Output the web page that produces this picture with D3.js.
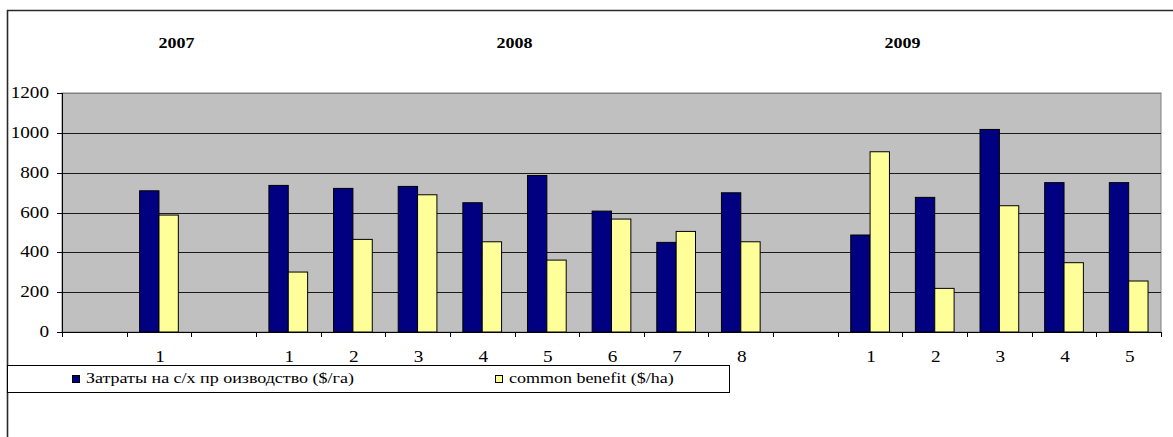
<!DOCTYPE html>
<html>
<head>
<meta charset="utf-8">
<script src="https://cdn.jsdelivr.net/npm/d3@7/dist/d3.min.js"></script>
<style>
  html, body { margin: 0; padding: 0; background: #fff; }
  svg { display: block; }
</style>
</head>
<body>
<svg id="chart" width="1173" height="437"></svg>
<script>
// Slot labels along the category axis (empty slots separate the years)
const slotLabels = ["", "1", "", "1", "2", "3", "4", "5", "6", "7", "8", "", "1", "2", "3", "4", "5"];
// Production costs, $/ha
const costs   = [null, 709, null, 736, 721, 731, 649, 786, 607, 450, 699, null, 487, 676, 1017, 750, 750];
// Common benefit, $/ha
const benefit = [null, 587, null, 301, 465, 689, 453, 361, 567, 505, 453, null, 905, 219, 634, 348, 256];
// Year headings and the slot position each one sits over
const years   = ["2007", "2008", "2009"];
const yearPos = [1.77, 7.0, 13.0];
const yTicks  = [0, 200, 400, 600, 800, 1000, 1200];
const seriesNames = ["Затраты на с/х пр оизводство ($/га)", "common benefit ($/ha)"];
const seriesColors = ["#000080", "#FFFF99"];

const FONT = "Liberation Serif, Tinos, DejaVu Serif, Noto Serif, serif";
const svg = d3.select("#chart");
const plot = { left: 62, right: 1161, top: 93, bottom: 332 };
const STRETCH = 1.2;   // horizontal text stretch

const slots = slotLabels.map((d, i) => i);
const x = d3.scaleBand().domain(slots).range([plot.left, plot.right]).paddingInner(0).paddingOuter(0);
const xSub = d3.scaleBand().domain([0, 1]).range([0, x.bandwidth()]).paddingInner(0).paddingOuter(0.67);
const xUnit = d3.scaleLinear().domain([0, slots.length]).range([plot.left, plot.right]);
const y = d3.scaleLinear().domain([0, 1200]).range([plot.bottom, plot.top]);

function stretchedText(g, tx, ty, str, opts = {}) {
  return g.append("text")
    .attr("transform", `translate(${tx},${ty}) scale(${STRETCH},1)`)
    .attr("text-anchor", opts.anchor || "start")
    .style("font-family", FONT)
    .style("font-size", (opts.size || 16) + "px")
    .style("font-weight", opts.weight || "normal")
    .attr("fill", "#000")
    .text(str);
}

// Outer chart frame (extends past the window on the right and bottom)
svg.append("path")
  .attr("d", "M7.5,440 L7.5,10.5 L1180,10.5")
  .attr("fill", "none").attr("stroke", "#2a2a2a").attr("stroke-width", 1.6);

// Plot area
svg.append("rect")
  .attr("x", plot.left).attr("y", plot.top)
  .attr("width", plot.right - plot.left).attr("height", plot.bottom - plot.top)
  .attr("fill", "#C0C0C0").attr("stroke", "#808080").attr("stroke-width", 1);

// Gridlines
svg.append("g").selectAll("line").data(yTicks.filter(d => d > 0)).join("line")
  .attr("x1", plot.left).attr("x2", plot.right)
  .attr("y1", d => Math.round(y(d)) + 0.5).attr("y2", d => Math.round(y(d)) + 0.5)
  .attr("stroke", d => d === 1200 ? "#808080" : "#1a1a1a").attr("stroke-width", 1);

// Bars
const bars = svg.append("g");
[costs, benefit].forEach((series, s) => {
  bars.selectAll(null).data(series.map((v, i) => ({ v, i })).filter(d => d.v != null)).join("rect")
    .attr("x", d => x(d.i) + xSub(s))
    .attr("y", d => y(d.v))
    .attr("width", xSub.bandwidth())
    .attr("height", d => y(0) - y(d.v))
    .attr("fill", seriesColors[s])
    .attr("stroke", "#000").attr("stroke-width", 1);
});

// Y axis
const yAxis = svg.append("g");
yAxis.append("line").attr("x1", plot.left + 0.5).attr("x2", plot.left + 0.5)
  .attr("y1", plot.top).attr("y2", plot.bottom).attr("stroke", "#000");
yTicks.forEach(t => {
  const yy = Math.round(y(t)) + 0.5;
  yAxis.append("line").attr("x1", plot.left - 5).attr("x2", plot.left)
    .attr("y1", yy).attr("y2", yy).attr("stroke", "#000");
  stretchedText(yAxis, 49, y(t) + 5, String(t), { anchor: "end" });
});

// X axis
const xAxis = svg.append("g");
xAxis.append("line").attr("x1", plot.left).attr("x2", plot.right)
  .attr("y1", plot.bottom + 0.5).attr("y2", plot.bottom + 0.5).attr("stroke", "#000");
d3.range(slots.length + 1).forEach(k => {
  const xx = Math.round(xUnit(k)) + 0.5;
  xAxis.append("line").attr("x1", xx).attr("x2", xx)
    .attr("y1", plot.bottom).attr("y2", plot.bottom + 5).attr("stroke", "#000");
});
slotLabels.forEach((lab, i) => {
  if (lab) stretchedText(xAxis, x(i) + x.bandwidth() / 2 + 1, 362, lab, { anchor: "middle" });
});

// Year headings
years.forEach((yr, k) => {
  stretchedText(svg, xUnit(yearPos[k]), 48, yr, { anchor: "middle", size: 15, weight: "bold" });
});

// Legend
const legend = svg.append("g");
legend.append("rect").attr("x", 7.5).attr("y", 365.5).attr("width", 722).attr("height", 27)
  .attr("fill", "#fff").attr("stroke", "#000").attr("stroke-width", 1);
const legendX = [72, 495];
seriesNames.forEach((name, s) => {
  legend.append("rect").attr("x", legendX[s] + 0.5).attr("y", 375.5).attr("width", 7).attr("height", 7)
    .attr("fill", seriesColors[s]).attr("stroke", "#000").attr("stroke-width", 1);
  stretchedText(legend, legendX[s] + 14, 383, name, { size: 15 });
});
</script>
</body>
</html>
